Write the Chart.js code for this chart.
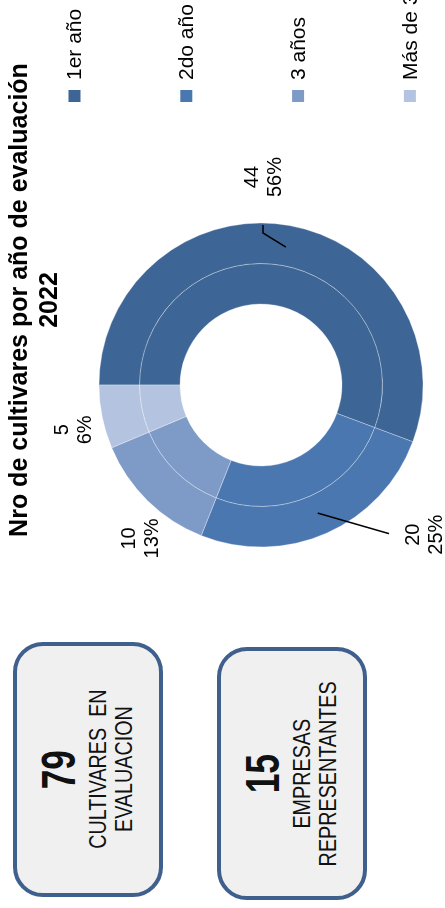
<!DOCTYPE html>
<html lang="es">
<head>
<meta charset="utf-8">
<title>Nro de cultivares por año de evaluación 2022</title>
<script src="https://cdn.jsdelivr.net/npm/chart.js@4.4.1/dist/chart.umd.min.js"></script>
<style>
  html, body { margin: 0; padding: 0; background: #ffffff; }
  body { width: 445px; height: 908px; overflow: hidden; position: relative;
         font-family: 'Liberation Sans', Arial, sans-serif; }
  /* the whole sheet is laid out landscape and turned a quarter turn counter-clockwise */
  #stage { position: absolute; left: 0; top: 0; width: 908px; height: 445px;
           transform-origin: 0 0; transform: translateY(908px) rotate(-90deg); }
  .card { position: absolute; box-sizing: border-box; border: 4px solid #3F5F8D;
          border-radius: 30px; background: #F0F0F0; }
  .card .line { position: absolute; left: 0; right: 0; text-align: center;
                white-space: pre; color: #111; }
  .card .line span { display: inline-block; transform: scaleX(0.84); }
  .card .big { font-size: 49px; line-height: 49px; font-weight: bold; }
  .card .big span { transform: scaleX(0.72); }
  .card .small { font-size: 23.5px; line-height: 23.5px; }
  #chartBox { position: absolute; left: 236px; top: 0; }
</style>
</head>
<body>
<div id="stage">
  <div class="card" id="card0" style="left:11px; top:13px; width:255px; height:150px;"></div>
  <div class="card" id="card1" style="left:8px; top:217px; width:253px; height:150px;"></div>
  <div id="chartBox"><canvas id="chart" width="744" height="445"></canvas></div>
</div>
<script>
// ---- data ----
const categories = ['1er año', '2do año', '3 años', 'Más de 3 años'];
const cultivares = [44, 20, 10, 5];
const chartTitle = ['Nro de cultivares por año de evaluación', '2022'];
const empresasRepresentantes = 15;
const cardCaptions = [['CULTIVARES  EN', 'EVALUACION'], ['EMPRESAS', 'REPRESENTANTES']];

// ---- style ----
const ringColors = ['#3D6595', '#4A77B0', '#7E9BC8', '#B4C3DF'];
const FONT = "'Liberation Sans', Arial, sans-serif";

// label layout: angular nudge (deg) from the slice middle, distance from centre, optional leader
const labelPlacement = [
  { turn: -9.4,  dist: 208, leader: [[-56, -1], [-48, -1]] },
  { turn: -23.7, dist: 222, leader: [[1, -36]] },
  { turn: -6.3,  dist: 195, leader: null },
  { turn: -2.1,  dist: 192, leader: null }
];

// ---- summary cards ----
const totalCultivares = cultivares.reduce((a, b) => a + b, 0);
const cardNumbers = [totalCultivares, empresasRepresentantes];
cardNumbers.forEach((n, i) => {
  const card = document.getElementById('card' + i);
  const rows = [{ cls: 'big', text: String(n), top: 17 }]
    .concat(cardCaptions[i].map((t, k) => ({ cls: 'small', text: t, top: 70 + 26 * k })));
  rows.forEach(r => {
    const d = document.createElement('div');
    d.className = 'line ' + r.cls;
    d.style.top = r.top + 'px';
    const s = document.createElement('span');
    s.textContent = r.text;
    d.appendChild(s);
    card.appendChild(d);
  });
});

// ---- two-line heading centred over the whole canvas ----
const sheetTitle = {
  id: 'sheetTitle',
  afterDraw(chart, args, opts) {
    const ctx = chart.ctx;
    ctx.save();
    ctx.font = 'bold ' + opts.size + 'px ' + FONT;
    ctx.fillStyle = '#000';
    ctx.textAlign = 'center';
    ctx.textBaseline = 'middle';
    opts.lines.forEach((t, i) => ctx.fillText(t, chart.width / 2, opts.top + opts.lineHeight * (i + 0.5)));
    ctx.restore();
  }
};

// ---- value / percentage labels with leaders ----
const sliceLabels = {
  id: 'sliceLabels',
  afterDatasetsDraw(chart) {
    const meta = chart.getDatasetMeta(0);
    const data = chart.data.datasets[0].data;
    const total = data.reduce((a, b) => a + b, 0);
    const ctx = chart.ctx;
    ctx.save();
    ctx.font = '20px ' + FONT;
    ctx.textAlign = 'center';
    ctx.textBaseline = 'middle';
    meta.data.forEach((arc, i) => {
      const p = arc.getProps(['x', 'y', 'startAngle', 'endAngle', 'outerRadius'], true);
      const mid = (p.startAngle + p.endAngle) / 2;
      const place = labelPlacement[i];
      const a = mid + place.turn * Math.PI / 180;
      const lx = p.x + Math.cos(a) * place.dist;
      const ly = p.y + Math.sin(a) * place.dist;
      if (place.leader) {
        ctx.strokeStyle = '#000';
        ctx.lineWidth = 1.5;
        ctx.beginPath();
        ctx.moveTo(p.x + Math.cos(mid) * p.outerRadius * 0.865, p.y + Math.sin(mid) * p.outerRadius * 0.865);
        place.leader.forEach(([dx, dy]) => ctx.lineTo(lx + dx, ly + dy));
        ctx.stroke();
      }
      ctx.fillStyle = '#000';
      ctx.fillText(String(data[i]), lx, ly - 11.5);
      ctx.fillText(Math.round(data[i] / total * 100) + '%', lx, ly + 11.5);
    });
    ctx.restore();
  }
};

// ---- legend column ----
const sideLegend = {
  id: 'sideLegend',
  afterDraw(chart, args, opts) {
    const ctx = chart.ctx;
    const colors = chart.data.datasets[0].backgroundColor;
    ctx.save();
    ctx.font = opts.size + 'px ' + FONT;
    ctx.textAlign = 'left';
    ctx.textBaseline = 'middle';
    chart.data.labels.forEach((lab, i) => {
      const cy = opts.top + i * opts.step;
      ctx.fillStyle = colors[i];
      ctx.fillRect(opts.x, cy - opts.box / 2, opts.box, opts.box);
      ctx.fillStyle = '#000';
      ctx.fillText(lab, opts.x + opts.box + opts.gap, cy + 1);
    });
    ctx.restore();
  }
};

const ringDataset = () => ({
  data: cultivares,
  backgroundColor: ringColors,
  borderColor: 'rgba(255,255,255,0.3)',
  borderWidth: 1
});

new Chart(document.getElementById('chart'), {
  type: 'doughnut',
  data: {
    labels: categories,
    datasets: [ringDataset(), ringDataset()]
  },
  options: {
    responsive: false,
    animation: false,
    events: [],
    radius: 162,
    cutout: '50%',
    layout: { padding: { top: 77, right: 170 } },
    plugins: {
      legend: { display: false },
      tooltip: { enabled: false },
      title: { display: false },
      sheetTitle: { lines: chartTitle, size: 25, top: 5, lineHeight: 30 },
      sideLegend: { x: 570, top: 74.5, step: 111.8, box: 12, gap: 10, size: 21 }
    }
  },
  plugins: [sheetTitle, sliceLabels, sideLegend]
});
</script>
</body>
</html>
